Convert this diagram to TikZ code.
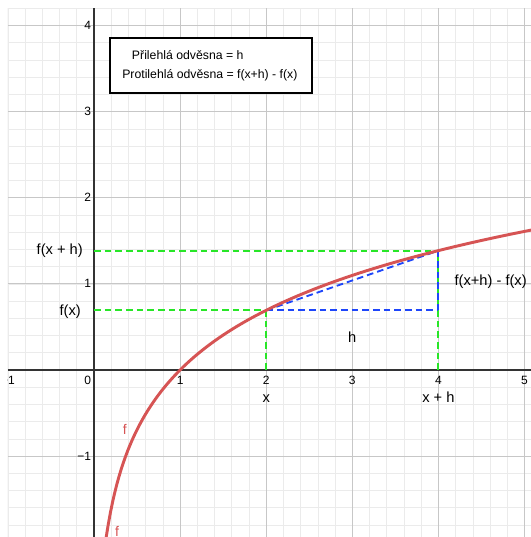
\documentclass[tikz,border=0pt]{standalone}
\usepackage{fontspec}
\setmainfont{Liberation Sans}
\usepackage{tikz}

\definecolor{curvered}{RGB}{214,84,84}
\definecolor{dashgreen}{RGB}{40,230,40}
\definecolor{dashblue}{RGB}{30,70,250}

\begin{document}
\begin{tikzpicture}[x=2.27cm,y=2.27cm,
            minorgrid/.style={line width=0.5pt,draw=black!8},
            majorgrid/.style={line width=0.8pt,draw=black!22},
            axis/.style={line width=0.9pt,draw=black!80},
            curve/.style={line width=2.2pt,draw=curvered},
            greendash/.style={line width=1.4pt,draw=dashgreen,dash pattern=on 5pt off 3pt},
            bluedash/.style={line width=1.4pt,draw=dashblue,dash pattern=on 5pt off 3pt},
            ticklbl/.style={font=\fontsize{9}{10}\selectfont,inner sep=2pt},
            annot/.style={font=\fontsize{11}{13}\selectfont,inner sep=0pt},
            infobox/.style={draw,line width=1.1pt,fill=white,minimum width=5.32cm,minimum height=1.45cm},
            boxtext/.style={font=\fontsize{9.2}{11}\selectfont,inner sep=0pt,anchor=base west}]
            \useasboundingbox (-1.092,-1.940) rectangle (5.075,4.297);
            \begin{scope}
            \clip (-1,-1.940) rectangle (5.075,4.2);
            % grid and axes
            \draw[minorgrid] (-1,-2) grid[step=0.2] (5.2,4.2);
            \draw[majorgrid] (-1,-2) grid[step=1] (5.2,4.2);
            \draw[axis] (-1,0)--(5.075,0);
            \draw[axis] (0,-1.940)--(0,4.2);
            \foreach \y in {1,2,3,4}
                \node[ticklbl,anchor=east] (ty\y) at (0,\y) {\y};
            \node[ticklbl,anchor=east] (tym1) at (0,-1) {−1};
            \foreach \x in {1,2,3,4,5}
                \node[ticklbl,anchor=north,yshift=-2.5pt] (tx\x) at (\x,0) {\x};
            \node[ticklbl,anchor=north,yshift=-2.5pt] (txm1) at (-1,0) {−1};
            \node[ticklbl,anchor=north east,yshift=-2.5pt] (t0) at (0,0) {0};
            % points
            \coordinate (p) at (2,{ln(2)});
            \coordinate (q) at (4,{ln(4)});
            \coordinate (r) at (4,{ln(2)});
            \coordinate (px) at (2,0);
            \coordinate (qx) at (4,0);
            \coordinate (py) at (0,{ln(2)});
            \coordinate (qy) at (0,{ln(4)});
            \draw[greendash] (py)--(p);
            \draw[greendash] (qy)--(q);
            \draw[greendash] (px)--(p);
            \draw[greendash] (qx)--(q);
            \draw[bluedash] (p)--(r);
            \draw[bluedash] (r)--(q);
            \draw[bluedash] (p)--(q);
            \draw[curve] plot[domain=0.14:5.1,samples=200] (\x,{ln(\x)});
            \end{scope}
            % labels
            \node[annot,anchor=base] (lx) at (2,-0.383) {x};
            \node[annot,anchor=base] (lxh) at (4,-0.383) {x + h};
            \node[annot,anchor=base] (lh) at (3,0.314) {h};
            \node[annot,anchor=base east] (lfxh) at (-0.128,1.336) {f(x + h)};
            \node[annot,anchor=base east] (lfx) at (-0.151,0.627) {f(x)};
            \node[annot,anchor=base west] (ldiff) at (4.185,0.976) {f(x+h) - f(x)};
            \node[annot,anchor=base,text=curvered,font=\fontsize{10.5}{12}\selectfont] (lf1) at (0.357,-0.755) {f};
            \node[annot,anchor=base,text=curvered,font=\fontsize{10.5}{12}\selectfont] (lf2) at (0.267,-1.93) {f};
            % info box
            \node[infobox] (info) at (1.359,3.537) {};
            \node[boxtext] (adj) at (0.438,3.606) {Přilehlá odvěsna = h};
            \node[boxtext] (opp) at (0.325,3.391) {Protilehlá odvěsna = f(x+h) - f(x)};
        \end{tikzpicture}
\end{document}
